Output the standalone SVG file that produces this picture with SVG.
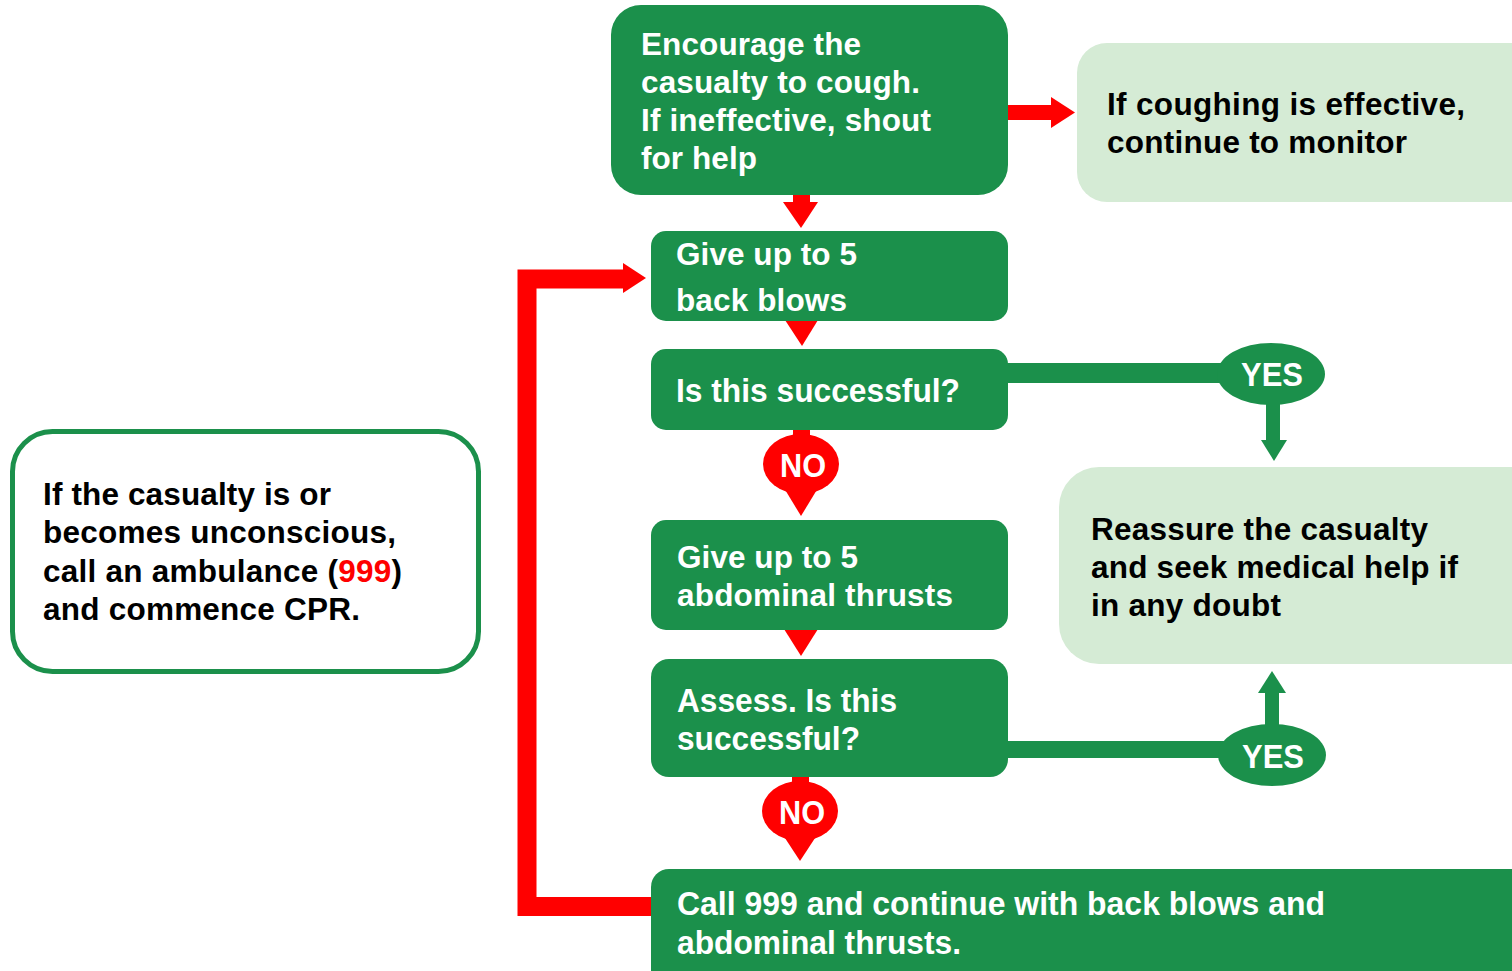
<svg xmlns="http://www.w3.org/2000/svg" width="1512" height="971" viewBox="0 0 1512 971">
<style>
.dk{fill:#1b904b}
.lt{fill:#d5ebd5}
.red{fill:#ff0000}
.t{font-family:"Liberation Sans",Arial,sans-serif;font-weight:bold;font-size:31.5px}
.w{fill:#ffffff}
.b{fill:#000000}
.n{font-family:"Liberation Sans Narrow","Liberation Sans",Arial,sans-serif;font-weight:bold;font-size:34px;fill:#ffffff}
</style>
<rect width="1512" height="971" fill="#ffffff"/>
<g id="connectors">
<path d="M651 906.5 H527 V279 H626" fill="none" stroke="#ff0000" stroke-width="19"/>
<polygon class="red" points="623,263 646,278 623,293"/>
<rect class="red" x="1008" y="105" width="46" height="15"/>
<polygon class="red" points="1051,97 1075,112.5 1051,128"/>
<rect class="red" x="793" y="194" width="17" height="10"/>
<polygon class="red" points="783,202 818,202 801,228"/>
<polygon class="red" points="785,320 818,320 802,346"/>
<rect class="red" x="793" y="429" width="17" height="12"/>
<ellipse class="red" cx="801" cy="464" rx="38" ry="30"/>
<polygon class="red" points="784,488 818,488 801,516"/>
<polygon class="red" points="784,629 818,629 801,656"/>
<rect class="red" x="792" y="776" width="17" height="12"/>
<ellipse class="red" cx="800" cy="811" rx="38" ry="30"/>
<polygon class="red" points="783,835 817,835 800,861"/>
<rect class="dk" x="1007" y="363" width="220" height="20"/>
<ellipse class="dk" cx="1271" cy="374" rx="54" ry="31"/>
<rect class="dk" x="1266" y="400" width="14" height="42"/>
<polygon class="dk" points="1261,440 1287,440 1274,461"/>
<rect class="dk" x="1007" y="741" width="220" height="17"/>
<ellipse class="dk" cx="1272" cy="755" rx="54" ry="31"/>
<rect class="dk" x="1265" y="690" width="14" height="40"/>
<polygon class="dk" points="1258,693 1286,693 1272,671"/>
<text class="n" x="1272" y="386" text-anchor="middle" textLength="62" lengthAdjust="spacingAndGlyphs">YES</text>
<text class="n" x="1273" y="768" text-anchor="middle" textLength="62" lengthAdjust="spacingAndGlyphs">YES</text>
<text class="n" x="803" y="477" text-anchor="middle" textLength="46" lengthAdjust="spacingAndGlyphs">NO</text>
<text class="n" x="802" y="824" text-anchor="middle" textLength="46" lengthAdjust="spacingAndGlyphs">NO</text>
</g>
<g id="encourage">
<rect class="dk" x="611" y="5" width="397" height="190" rx="30"/>
<text class="t w"><tspan x="641" y="55" textLength="220">Encourage the</tspan><tspan x="641" y="93" textLength="279">casualty to cough.</tspan><tspan x="641" y="131" textLength="290">If ineffective, shout</tspan><tspan x="641" y="169" textLength="116">for help</tspan></text>
</g>
<g id="monitor">
<rect class="lt" x="1077" y="43" width="470" height="159" rx="30"/>
<text class="t b"><tspan x="1107" y="115" textLength="358">If coughing is effective,</tspan><tspan x="1107" y="153" textLength="300">continue to monitor</tspan></text>
</g>
<g id="backblows">
<rect class="dk" x="651" y="231" width="357" height="90" rx="15"/>
<text class="t w"><tspan x="676" y="265" textLength="181">Give up to 5</tspan><tspan x="676" y="311" textLength="171">back blows</tspan></text>
</g>
<g id="success1">
<rect class="dk" x="651" y="349" width="357" height="81" rx="15"/>
<text class="n" x="676" y="402" textLength="284" lengthAdjust="spacingAndGlyphs">Is this successful?</text>
</g>
<g id="abdominal">
<rect class="dk" x="651" y="520" width="357" height="110" rx="15"/>
<text class="t w"><tspan x="677" y="568" textLength="181">Give up to 5</tspan><tspan x="677" y="606" textLength="276">abdominal thrusts</tspan></text>
</g>
<g id="success2">
<rect class="dk" x="651" y="659" width="357" height="118" rx="18"/>
<text class="n"><tspan x="677" y="712" textLength="220" lengthAdjust="spacingAndGlyphs">Assess. Is this</tspan><tspan x="677" y="750" textLength="183" lengthAdjust="spacingAndGlyphs">successful?</tspan></text>
</g>
<g id="call999">
<rect class="dk" x="651" y="869" width="900" height="140" rx="18"/>
<text class="n"><tspan x="677" y="915" textLength="648" lengthAdjust="spacingAndGlyphs">Call 999 and continue with back blows and</tspan><tspan x="677" y="954" textLength="284" lengthAdjust="spacingAndGlyphs">abdominal thrusts.</tspan></text>
</g>
<g id="reassure">
<rect class="lt" x="1059" y="467" width="500" height="197" rx="40"/>
<text class="t b"><tspan x="1091" y="540" textLength="337">Reassure the casualty</tspan><tspan x="1091" y="578" textLength="367">and seek medical help if</tspan><tspan x="1091" y="616" textLength="190">in any doubt</tspan></text>
</g>
<g id="unconscious">
<rect x="12.5" y="431.5" width="466" height="240" rx="40" fill="#ffffff" stroke="#1b904b" stroke-width="5"/>
<text class="t b"><tspan x="43" y="505" textLength="288">If the casualty is or</tspan><tspan x="43" y="543" textLength="353">becomes unconscious,</tspan><tspan x="43" y="582" textLength="359">call an ambulance (<tspan fill="#ff0000">999</tspan>)</tspan><tspan x="43" y="620" textLength="317">and commence CPR.</tspan></text>
</g>
</svg>
